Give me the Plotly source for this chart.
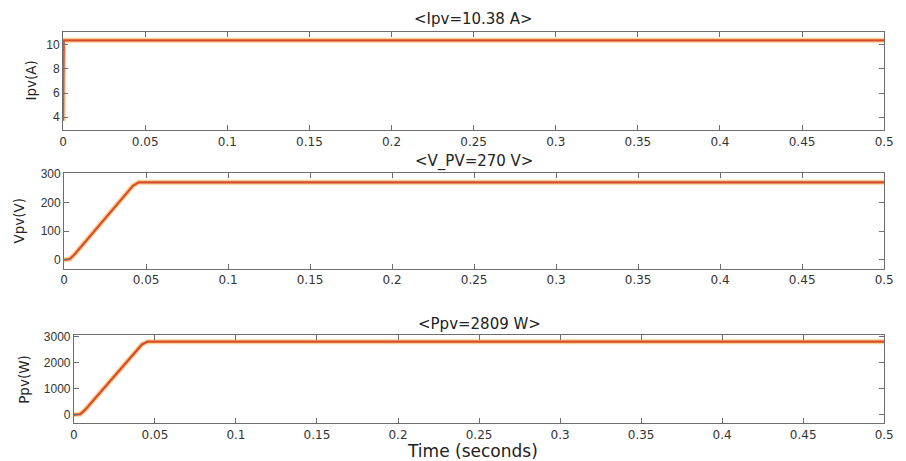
import plotly.graph_objects as go

# Simulation results of the PV array (time in seconds)
t_ipv = [0.0, 0.0004, 0.5]
ipv = [3.7, 10.38, 10.38]

t_vpv = [0.0, 0.0035, 0.0065, 0.0420, 0.0455, 0.5]
vpv = [0, 3, 20, 258, 270, 270]

t_ppv = [0.0, 0.0040, 0.0070, 0.0420, 0.0455, 0.5]
ppv = [0, 30, 200, 2700, 2809, 2809]

titles = ["<Ipv=10.38 A>", "<V_PV=270 V>", "<Ppv=2809 W>"]
ylabels = ["Ipv(A)", "Vpv(V)", "Ppv(W)"]
yticks = [[4, 6, 8, 10], [0, 100, 200, 300], [0, 1000, 2000, 3000]]
yranges = [[2.9, 11.1], [-30, 303], [-330, 3076]]

W, H = 906, 461
# plot-area boxes in pixels: (left, right, top, bottom)
boxes = [(60, 894, 26, 126), (61, 894, 169, 266), (71, 894, 333, 423)]
title_y = [13, 158, 322]
ylabel_x = [27, 15, 20]

series = [(t_ipv, ipv), (t_vpv, vpv), (t_ppv, ppv)]

wide = "DejaVu Sans, Verdana, sans-serif"
narrow = "Liberation Sans, Arial, sans-serif"

fig = go.Figure()
axis_common = dict(
    showline=True, linecolor="#6e6e6e", linewidth=1, mirror="ticks",
    ticks="inside", ticklen=5, tickcolor="#6e6e6e", showgrid=False,
    zeroline=False,
)

for i, ((t, y), (l, r, tp, bt)) in enumerate(zip(series, boxes)):
    n = "" if i == 0 else str(i + 1)
    xa, ya = "x" + n, "y" + n
    # soft halo under the trace, then the trace itself
    fig.add_trace(go.Scatter(x=t, y=y, mode="lines", xaxis=xa, yaxis=ya,
                             line=dict(color="#f7cf95", width=5),
                             showlegend=False, hoverinfo="skip"))
    fig.add_trace(go.Scatter(x=t, y=y, mode="lines", xaxis=xa, yaxis=ya,
                             line=dict(color="#d94c2a", width=2.2),
                             showlegend=False))
    fig.layout["xaxis" + n] = dict(
        axis_common, domain=[l / W, r / W], anchor=ya, range=[0, 0.5],
        tick0=0, dtick=0.05,
        tickfont=dict(family=wide, size=12, color="#333333"),
    )
    fig.layout["yaxis" + n] = dict(
        axis_common, domain=[1 - bt / H, 1 - tp / H], anchor=xa,
        range=yranges[i], tickvals=yticks[i],
        tickfont=dict(family=narrow, size=12, color="#333333"),
    )
    fig.add_annotation(text=titles[i], x=(l + r) / 2 / W, y=1 - title_y[i] / H,
                       xref="paper", yref="paper", showarrow=False,
                       xanchor="center", yanchor="middle",
                       font=dict(family=wide, size=15, color="#222222"))
    fig.add_annotation(text=ylabels[i], x=ylabel_x[i] / W,
                       y=1 - (tp + bt) / 2 / H, xref="paper", yref="paper",
                       showarrow=False, textangle=-90, xanchor="center",
                       yanchor="middle",
                       font=dict(family=wide, size=13.5, color="#222222"))

fig.add_annotation(text="Time (seconds)", x=476 / W, y=1 - 451 / H,
                   xref="paper", yref="paper", showarrow=False,
                   xanchor="center", yanchor="middle",
                   font=dict(family=wide, size=17, color="#222222"))

fig.update_layout(width=W, height=H, margin=dict(l=0, r=0, t=0, b=0),
                  paper_bgcolor="white", plot_bgcolor="white")

fig.write_html("out.html")
